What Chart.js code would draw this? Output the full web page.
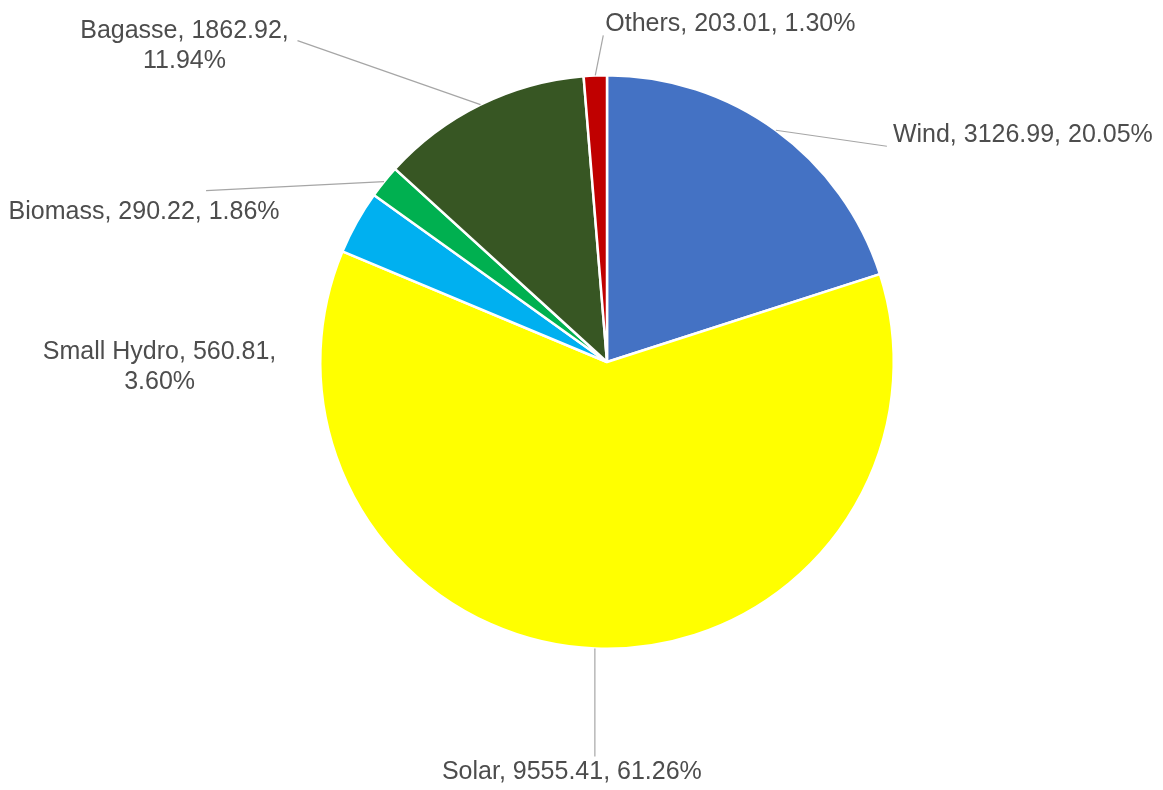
<!DOCTYPE html>
<html>
<head>
<meta charset="utf-8">
<script src="https://cdn.jsdelivr.net/npm/chart.js@4"></script>
<style>
  html, body { margin: 0; padding: 0; background: #fff; }
  #wrap { width: 1163px; height: 790px; }
</style>
</head>
<body>
<div id="wrap"><canvas id="pie" width="1163" height="790"></canvas></div>
<script>
const sources = ['Wind', 'Solar', 'Small Hydro', 'Biomass', 'Bagasse', 'Others'];
const capacity = [3126.99, 9555.41, 560.81, 290.22, 1862.92, 203.01];
const sliceColors = ['#4472C4', '#FFFF00', '#00B0F0', '#00B050', '#375623', '#C00000'];

// where each label sits, relative to the point on the slice edge
// lead: end of the leader line; text: anchor of the text block from lead end
const labelLayout = [
  { lead: [111, 16], text: [6, -11], align: 'left', wrap: false },
  { lead: [0, 108], text: [-23, 16], align: 'center', wrap: false },
  { lead: null, text: [-197, 130], align: 'center', wrap: true },
  { lead: [-178, 9], text: [-62, 21], align: 'center', wrap: false },
  { lead: [-183, -64], text: [-113, -10], align: 'center', wrap: true },
  { lead: [8, -40], text: [2, -11], align: 'left', wrap: false }
];

const total = capacity.reduce((a, b) => a + b, 0);

const outsideLabels = {
  id: 'outsideLabels',
  afterDatasetsDraw(chart) {
    const ctx = chart.ctx;
    const arcs = chart.getDatasetMeta(0).data;
    ctx.save();
    ctx.font = '25px "Liberation Sans", Arial, sans-serif';
    ctx.fillStyle = '#4d4d4d';
    ctx.textBaseline = 'middle';
    arcs.forEach((arc, i) => {
      const p = arc.getProps(['x', 'y', 'startAngle', 'endAngle', 'outerRadius'], true);
      const mid = (p.startAngle + p.endAngle) / 2;
      const ex = p.x + Math.cos(mid) * p.outerRadius;
      const ey = p.y + Math.sin(mid) * p.outerRadius;
      const lay = labelLayout[i];
      let lx = ex, ly = ey;
      if (lay.lead) {
        lx = ex + lay.lead[0];
        ly = ey + lay.lead[1];
        ctx.strokeStyle = '#a6a6a6';
        ctx.lineWidth = 1.2;
        ctx.beginPath();
        ctx.moveTo(ex, ey);
        ctx.lineTo(lx, ly);
        ctx.stroke();
      }
      const pct = (capacity[i] / total * 100).toFixed(2) + '%';
      const val = capacity[i].toFixed(2);
      const lines = lay.wrap
        ? [sources[i] + ', ' + val + ',', pct]
        : [sources[i] + ', ' + val + ', ' + pct];
      ctx.textAlign = lay.align;
      const tx = lx + lay.text[0];
      const ty = ly + lay.text[1];
      lines.forEach((t, k) => ctx.fillText(t, tx, ty + k * 30));
    });
    ctx.restore();
  }
};

new Chart(document.getElementById('pie'), {
  type: 'pie',
  data: {
    labels: sources,
    datasets: [{
      data: capacity,
      backgroundColor: sliceColors,
      borderColor: '#ffffff',
      borderWidth: 2.5
    }]
  },
  options: {
    responsive: false,
    animation: false,
    layout: { padding: { left: 319, right: 268, top: 74, bottom: 140 } },
    plugins: {
      legend: { display: false },
      tooltip: { enabled: false }
    }
  },
  plugins: [outsideLabels]
});
</script>
</body>
</html>
